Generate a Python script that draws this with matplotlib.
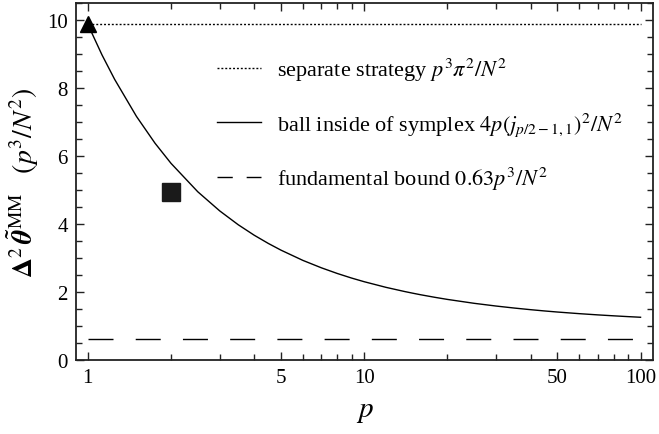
import matplotlib
matplotlib.use('Agg')
import matplotlib.pyplot as plt
from matplotlib.ticker import FixedLocator, NullFormatter, FixedFormatter

plt.rcParams['font.family'] = 'Liberation Serif'
plt.rcParams['mathtext.fontset'] = 'stix'

# ball inside of symplex, per p^3/N^2
p_ball = [1, 1.125, 1.25, 1.5, 1.75, 2, 2.5, 3, 3.5, 4, 4.5, 5, 6, 7, 8, 9, 10,
          12, 14, 15, 16, 18, 20, 25, 30, 35, 40, 45, 50, 60, 70, 80, 90, 100]
ball = [9.870, 8.973, 8.254, 7.162, 6.376, 5.783, 4.947, 4.386, 3.979, 3.670,
        3.428, 3.231, 2.930, 2.712, 2.544, 2.411, 2.303, 2.137, 2.015, 1.965,
        1.920, 1.845, 1.783, 1.668, 1.588, 1.528, 1.481, 1.443, 1.412, 1.364,
        1.328, 1.300, 1.277, 1.258]

p_range = [1, 100]
separate = 9.87      # pi^2
fundamental = 0.63

triangle_p, triangle_v = [1], [9.87]
square_p, square_v = [2], [4.93]

xticks = [1, 5, 10, 50, 100]
xtick_labels = ['1', '5', '10', '50', '100']

fig = plt.figure(figsize=(6.59, 4.35), dpi=100)
ax = fig.add_axes([0.1153, 0.170, 0.8757, 0.821])

ax.plot(p_range, [separate, separate], color='black', lw=1.0,
        dashes=(1.4, 1.4), label=r'separate strategy $p^3\pi^2/N^2$')
ax.plot(p_ball, ball, color='black', lw=1.0,
        label=r'ball inside of symplex $4p(j_{p/2-1,1})^2/N^2$')
ax.plot(p_range, [fundamental, fundamental], color='black', lw=1.0,
        dashes=(18, 16))
# two dashes for the legend entry
ax.plot([], [], color='black', lw=1.0, dashes=(11, 10),
        label=r'fundamental bound $0.63p^3/N^2$')

ax.plot(triangle_p, triangle_v, marker='^', ms=12, color='black', ls='none')
ax.plot(square_p, square_v, marker='s', ms=13, color='#1a1a1a', ls='none')

ax.set_xscale('log')
ax.set_xlim(0.906, 111)
ax.set_ylim(0, 10.5)

ax.xaxis.set_major_locator(FixedLocator(xticks))
ax.xaxis.set_major_formatter(FixedFormatter(xtick_labels))
minor_x = [2, 3, 4, 6, 7, 8, 9, 20, 30, 40, 60, 70, 80, 90]
ax.xaxis.set_minor_locator(FixedLocator(minor_x))
ax.xaxis.set_minor_formatter(NullFormatter())
ax.set_yticks([0, 2, 4, 6, 8, 10])
ax.set_yticks([i * 0.5 for i in range(22)], minor=True)

ax.tick_params(which='both', direction='in', top=True, right=True,
               labelsize=15, width=1.0, color='#222222', pad=6)
ax.tick_params(which='major', length=6)
ax.tick_params(which='minor', length=4)
for s in ax.spines.values():
    s.set_linewidth(1.3)
    s.set_color('#222222')

ax.set_xlabel(r'$p$', fontsize=21, labelpad=8)
ax.set_ylabel(r'$\mathbf{\Delta}^{2}\,\tilde{\mathbfit{\theta}}^{\mathrm{MM}}\quad(p^3/N^2)$',
              fontsize=20, labelpad=4)

ax.legend(loc='upper left', bbox_to_anchor=(0.244, 0.851), frameon=False,
          borderpad=0, borderaxespad=0, fontsize=16, handlelength=2.0,
          handletextpad=0.7, labelspacing=1.2)

fig.savefig('out.png', dpi=100)
